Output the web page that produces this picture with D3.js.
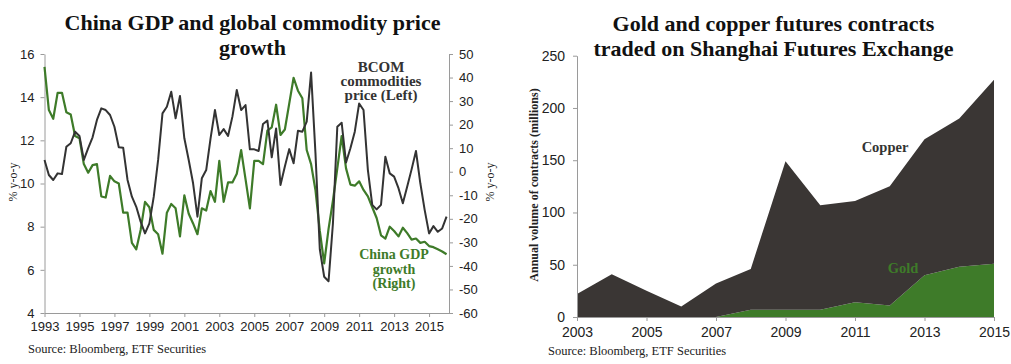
<!DOCTYPE html>
<html><head><meta charset="utf-8">
<script src="https://cdn.jsdelivr.net/npm/d3@7"></script>
<style>
body{margin:0;background:#fff;}
svg{display:block;font-family:"Liberation Serif","Times New Roman",serif;}
.axis path,.axis line{stroke:#9a9a9a;stroke-width:1;}
.axis text{fill:#222;}
</style></head><body>
<svg id="c" width="1011" height="364"></svg>
<script>
// ---------- Left chart data (quarterly, starting 1993 Q1) ----------
const firstYear = 1993;
const gdpGrowth = [15.4,13.4,13.0,14.2,14.2,13.3,13.2,12.2,12.1,10.9,10.5,10.85,10.9,9.4,9.35,10.35,10.1,10.0,8.65,8.65,7.25,6.95,7.85,9.15,8.9,7.85,7.65,6.75,8.65,9.05,8.85,7.55,9.45,8.6,8.15,7.65,8.85,8.75,9.65,9.15,11.05,9.15,10.05,10.05,10.45,11.55,
  10.2,8.85,11.05,11.05,10.9,12.45,12.6,13.65,12.25,12.5,13.7,14.9,14.3,13.95,11.55,10.9,9.7,7.8,6.3,7.9,9.2,10.7,12.2,10.7,9.95,9.9,10.1,9.7,9.4,8.9,8.4,7.6,7.45,8.0,7.8,7.55,7.95,7.7,7.4,7.45,7.25,7.3,7.1,7.05,6.95,6.85,6.72];
const bcomYoy = [5.0,-1.4,-3.5,-0.7,-1.0,10.6,12.1,17.0,15.2,5.0,10.0,14.6,22.0,26.9,26.2,24.1,19.1,10.4,10.2,-3.5,-10.6,-14.9,-21.2,-26.2,-21.9,-10.6,5.0,24.8,27.6,34.0,22.7,32.2,14.2,5.0,-4.9,-19.1,-2.8,0.7,14.2,26.2,15.6,18.1,15.2,23.4,34.7,26.2,28.3,
  9.5,9.5,8.8,20.3,21.7,6.1,18.4,-5.6,2.2,9.6,3.6,17.4,17.0,21.3,42.1,8.0,-33.0,-44.6,-46.5,-22.0,19.1,20.8,3.9,10.0,17.0,29.0,26.2,0.7,-14.1,-16.0,-14.1,6.4,-0.7,-2.1,-7.0,-13.4,-6.3,1.0,8.8,-4.9,-16.3,-26.2,-23.1,-25.5,-24.1,-19.1];
const leftAxisTicks = [4,6,8,10,12,14,16];
const rightAxisTicks = [-60,-50,-40,-30,-20,-10,0,10,20,30,40,50];
const leftYearTicks = [1993,1995,1997,1999,2001,2003,2005,2007,2009,2011,2013,2015];

// ---------- Right chart data (annual, millions of contracts) ----------
const years = [2003,2004,2005,2006,2007,2008,2009,2010,2011,2012,2013,2014,2015];
const gold   = [0,0,0,0,0,7,7,7,14,11,40,48,51];
const copper = [22,41,25,10,32,39,142,100,97,114,130,142,176];
const volumeTicks = [0,50,100,150,200,250];
const rightYearTicks = [2003,2005,2007,2009,2011,2013,2015];

const GREEN = "#3e7b29", DARK = "#3a3634";
const svg = d3.select("#c");
const fmt = d => String(d);

// ================= LEFT CHART =================
const xL = d3.scaleLinear().domain([1993, 2016.14]).range([44.5, 449]);
const yL = d3.scaleLinear().domain([4, 16]).range([313, 54]);
const yR = d3.scaleLinear().domain([-60, 50]).range([313, 54]);
const tq = i => firstYear + i / 4;

svg.append("g").attr("class","axis").attr("transform","translate(44.5,0)")
  .call(d3.axisLeft(yL).tickValues(leftAxisTicks).tickFormat(fmt).tickSize(4).tickSizeOuter(0).tickPadding(6))
  .call(g=>g.selectAll("text").attr("font-size",13));
svg.append("g").attr("class","axis").attr("transform","translate(449,0)")
  .call(d3.axisRight(yR).tickValues(rightAxisTicks).tickFormat(fmt).tickSize(4).tickSizeOuter(0).tickPadding(6))
  .call(g=>g.selectAll("text").attr("font-size",13));
svg.append("g").attr("class","axis").attr("transform","translate(0,313)")
  .call(d3.axisBottom(xL).tickValues(leftYearTicks).tickFormat(fmt).tickSize(4).tickSizeOuter(0).tickPadding(5))
  .call(g=>g.selectAll("text").attr("font-size",13));

const lineG = d3.line().x((d,i)=>xL(tq(i))).y(d=>yL(d));
const lineB = d3.line().x((d,i)=>xL(tq(i))).y(d=>yR(d));
svg.append("path").datum(gdpGrowth).attr("d",lineG).attr("fill","none").attr("stroke",GREEN).attr("stroke-width",2.2).attr("stroke-linejoin","round");
svg.append("path").datum(bcomYoy).attr("d",lineB).attr("fill","none").attr("stroke","#333").attr("stroke-width",2).attr("stroke-linejoin","round");

// titles & labels
function multi(x, ys, lines, opts){
  const t = svg.append("text").attr("text-anchor", opts.anchor||"middle")
    .attr("font-size", opts.size).attr("font-weight", opts.weight||"normal").attr("fill", opts.fill||"#111");
  lines.forEach((l,k)=>t.append("tspan").attr("x",x).attr("y",ys[k]).text(l));
}
multi(252.5,[30,55],["China GDP and global commodity price","growth"],{size:22,weight:"bold"});
multi(381,[72,86,100],["BCOM","commodities","price (Left)"],{size:15,weight:"bold",fill:"#333"});
multi(394,[259,273.5,288],["China GDP","growth","(Right)"],{size:14,weight:"bold",fill:GREEN});
svg.append("text").attr("transform","translate(17,182) rotate(-90)").attr("text-anchor","middle")
  .attr("font-size",12).attr("fill","#222").text("% y-o-y");
svg.append("text").attr("transform","translate(494,182) rotate(-90)").attr("text-anchor","middle")
  .attr("font-size",12).attr("fill","#222").text("% y-o-y");
svg.append("text").attr("x",28).attr("y",353).attr("font-size",12.5).attr("fill","#222").text("Source: Bloomberg, ETF Securities");

// ================= RIGHT CHART =================
const xV = d3.scaleLinear().domain([2003, 2015]).range([577, 994]);
const yV = d3.scaleLinear().domain([0, 250]).range([317, 55.7]);
const rows = years.map((y,k)=>({year:y, gold:gold[k], copper:copper[k]}));
const stacked = d3.stack().keys(["gold","copper"])(rows);
const area = d3.area().x(d=>xV(d.data.year)).y0(d=>yV(d[0])).y1(d=>yV(d[1]));
const fills = {gold:GREEN, copper:DARK};
svg.append("g").selectAll("path").data(stacked).join("path")
  .attr("d",area).attr("fill",d=>fills[d.key]);

svg.append("g").attr("class","axis").attr("transform","translate(577,0)")
  .call(d3.axisLeft(yV).tickValues(volumeTicks).tickFormat(fmt).tickSize(4).tickSizeOuter(0).tickPadding(8))
  .call(g=>g.selectAll("text").attr("font-size",14));
svg.append("g").attr("class","axis").attr("transform","translate(0,317)")
  .call(d3.axisBottom(xV).tickValues(rightYearTicks).tickFormat(fmt).tickSize(4).tickSizeOuter(0).tickPadding(6))
  .call(g=>g.selectAll("text").attr("font-size",14));

multi(773.5,[31,56],["Gold and copper futures contracts","traded on Shanghai Futures Exchange"],{size:22,weight:"bold"});
svg.append("text").attr("transform","translate(538,185) rotate(-90)").attr("text-anchor","middle")
  .attr("font-size",12).attr("font-weight","bold").attr("fill","#222").text("Annual volume of contracts (millions)");
svg.append("text").attr("x",885).attr("y",152).attr("text-anchor","middle").attr("font-size",14.5)
  .attr("font-weight","bold").attr("fill","#333").text("Copper");
svg.append("text").attr("x",903).attr("y",273).attr("text-anchor","middle").attr("font-size",14.5)
  .attr("font-weight","bold").attr("fill",GREEN).text("Gold");
svg.append("text").attr("x",548).attr("y",355).attr("font-size",12.5).attr("fill","#222").text("Source: Bloomberg, ETF Securities");
</script></body></html>
